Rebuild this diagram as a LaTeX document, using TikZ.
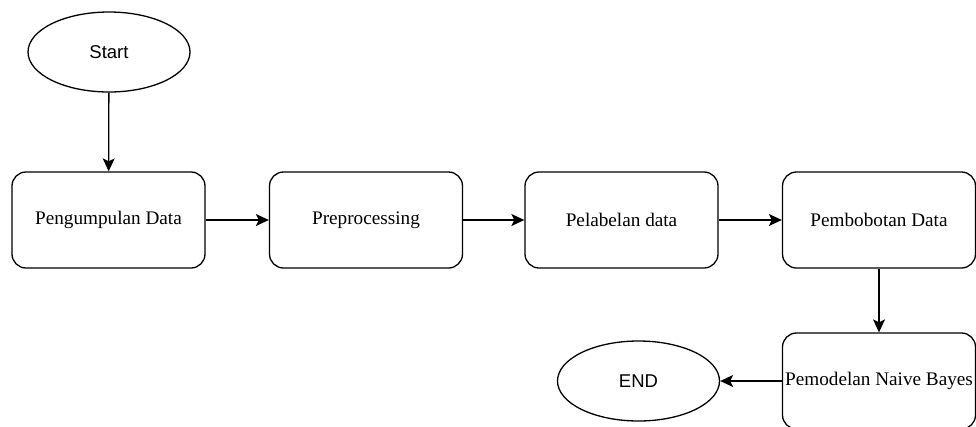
\documentclass[tikz,border=0pt]{standalone}
\usepackage{fontspec}
\setmainfont{Liberation Serif}
\newfontfamily\arialfont{Liberation Sans}
\usepackage{tikz}
\usetikzlibrary{shapes.geometric, arrows.meta}

\begin{document}
\begin{tikzpicture}[x=1pt, y=-1pt,
		terminal/.style={ellipse, draw, line width=1.3pt, minimum width=162pt, minimum height=80pt, inner sep=0pt, font=\arialfont\fontsize{18.5}{20}\selectfont},
		process/.style={rectangle, rounded corners=14pt, draw, line width=1.3pt, minimum width=193pt, minimum height=96pt, inner sep=0pt, font=\fontsize{19.2}{21}\selectfont},
		flow/.style={line width=1.3pt, -{Stealth[length=13pt, width=12pt, inset=3pt]}}]
							\useasboundingbox (0,0) rectangle (976,426);
							
							\node[terminal] (start) at (109,52) {Start};
							\node[process] (kumpul) at (108.5,220) {Pengumpulan Data};
							\node[process] (prepro) at (366,220) {Preprocessing};
							\node[process] (label) at (621.5,220) {Pelabelan data};
							\node[process] (bobot) at (879,220) {Pembobotan Data};
							\node[process] (model) at (879,381) {Pemodelan Naive Bayes};
							\node[terminal] (end) at (638.5,381) {END};
							
							\draw[flow] (start) -- (kumpul);
							\draw[flow] (kumpul) -- (prepro);
							\draw[flow] (prepro) -- (label);
							\draw[flow] (label) -- (bobot);
							\draw[flow] (bobot) -- (model);
							\draw[flow] (model) -- (end);
						\end{tikzpicture}
\end{document}
